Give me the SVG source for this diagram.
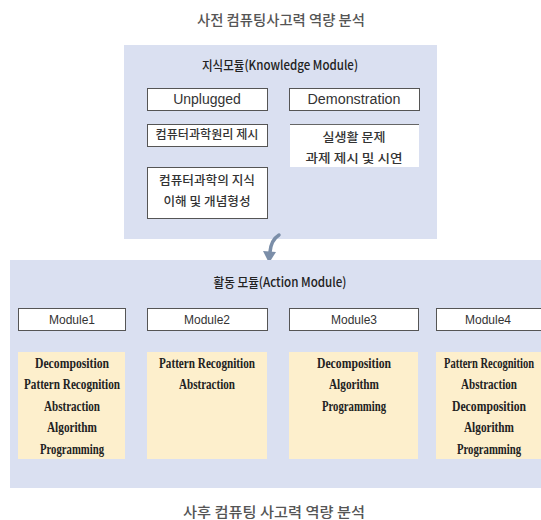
<svg xmlns="http://www.w3.org/2000/svg" width="541" height="520" viewBox="0 0 541 520">
<style>
.panel{fill:#dae0f1;}
.box{fill:#ffffff;stroke:#555;stroke-width:1;}
.ybox{fill:#fdefcc;}
.ttl{font-family:"Noto Sans CJK KR","Liberation Sans",sans-serif;font-size:14px;font-weight:500;fill:#555;text-anchor:middle;}
.hdr{font-family:"Noto Sans CJK KR","Liberation Sans",sans-serif;font-size:13px;font-weight:500;fill:#222;text-anchor:middle;}
.lbl{font-family:"Liberation Sans","Noto Sans CJK KR",sans-serif;font-size:14px;fill:#333;text-anchor:middle;}
.kr{font-family:"Noto Sans CJK KR","Liberation Sans",sans-serif;font-size:12px;font-weight:500;fill:#333;text-anchor:middle;}
.mod{font-family:"Liberation Sans",sans-serif;font-size:12px;fill:#333;text-anchor:middle;}
.sk{font-family:"Liberation Serif",serif;font-size:14px;font-weight:bold;fill:#222;text-anchor:middle;}
</style>
<text class="ttl" x="281" y="25" textLength="168" lengthAdjust="spacingAndGlyphs">사전 컴퓨팅사고력 역량 분석</text>
<g id="knowledge-module">
<rect class="panel" x="124" y="45" width="313" height="194"/>
<text class="hdr" x="280" y="70" textLength="156" lengthAdjust="spacingAndGlyphs">지식모듈(Knowledge Module)</text>
</g>
<g id="unplugged"><rect class="box" x="147.5" y="88.5" width="120" height="22"/><text class="lbl" x="207" y="104">Unplugged</text></g>
<g id="demonstration"><rect class="box" x="289.5" y="88.5" width="130" height="22"/><text class="lbl" x="354" y="104" textLength="93" lengthAdjust="spacingAndGlyphs">Demonstration</text></g>
<g id="cs-principle"><rect class="box" x="147.5" y="124.5" width="120" height="22"/><text class="kr" x="207" y="139" textLength="103" lengthAdjust="spacingAndGlyphs">컴퓨터과학원리 제시</text></g>
<g id="real-life"><rect x="290" y="124" width="129" height="43" fill="#fff"/><line x1="290" y1="124.5" x2="419" y2="124.5" stroke="#666" stroke-width="1"/><text class="kr" x="354" y="142" textLength="63" lengthAdjust="spacingAndGlyphs">실생활 문제</text><text class="kr" x="354" y="163" textLength="97" lengthAdjust="spacingAndGlyphs">과제 제시 및 시연</text></g>
<g id="cs-knowledge"><rect class="box" x="147.5" y="167.5" width="120" height="51"/><text class="kr" x="207" y="185" textLength="96" lengthAdjust="spacingAndGlyphs">컴퓨터과학의 지식</text><text class="kr" x="207" y="206" textLength="87" lengthAdjust="spacingAndGlyphs">이해 및 개념형성</text></g>
<g id="connectors">
<path d="M279,235 Q271,240 270,252" fill="none" stroke="#7b8ea8" stroke-width="3.5" stroke-linecap="round"/>
<path d="M263,251 L276,252 L269,263 Z" fill="#7b8ea8"/>
</g>
<g id="action-module">
<rect class="panel" x="10" y="260" width="531" height="228"/>
<text class="hdr" x="280" y="287" textLength="133" lengthAdjust="spacingAndGlyphs">활동 모듈(Action Module)</text>
</g>
<g id="module1"><rect class="box" x="18.5" y="308.5" width="107" height="22"/><text class="mod" x="72" y="324">Module1</text>
<rect class="ybox" x="18" y="352" width="107" height="107"/>
<text class="sk" x="72" y="368" textLength="74" lengthAdjust="spacingAndGlyphs">Decomposition</text>
<text class="sk" x="72" y="389" textLength="96" lengthAdjust="spacingAndGlyphs">Pattern Recognition</text>
<text class="sk" x="72" y="411" textLength="56" lengthAdjust="spacingAndGlyphs">Abstraction</text>
<text class="sk" x="72" y="432" textLength="50" lengthAdjust="spacingAndGlyphs">Algorithm</text>
<text class="sk" x="72" y="454" textLength="64" lengthAdjust="spacingAndGlyphs">Programming</text></g>
<g id="module2"><rect class="box" x="147.5" y="308.5" width="120" height="22"/><text class="mod" x="207" y="324">Module2</text>
<rect class="ybox" x="147" y="352" width="120" height="107"/>
<text class="sk" x="207" y="368" textLength="96" lengthAdjust="spacingAndGlyphs">Pattern Recognition</text>
<text class="sk" x="207" y="389" textLength="56" lengthAdjust="spacingAndGlyphs">Abstraction</text></g>
<g id="module3"><rect class="box" x="289.5" y="308.5" width="129" height="22"/><text class="mod" x="354" y="324">Module3</text>
<rect class="ybox" x="289" y="352" width="129" height="107"/>
<text class="sk" x="354" y="368" textLength="74" lengthAdjust="spacingAndGlyphs">Decomposition</text>
<text class="sk" x="354" y="389" textLength="50" lengthAdjust="spacingAndGlyphs">Algorithm</text>
<text class="sk" x="354" y="411" textLength="64" lengthAdjust="spacingAndGlyphs">Programming</text></g>
<g id="module4"><rect class="box" x="436.5" y="308.5" width="106" height="22"/><text class="mod" x="488" y="324">Module4</text>
<rect class="ybox" x="436" y="352" width="105" height="107"/>
<text class="sk" transform="translate(489,368) scale(0.75,1)" x="0" y="0">Pattern Recognition</text>
<text class="sk" x="489" y="389" textLength="56" lengthAdjust="spacingAndGlyphs">Abstraction</text>
<text class="sk" x="489" y="411" textLength="74" lengthAdjust="spacingAndGlyphs">Decomposition</text>
<text class="sk" x="489" y="432" textLength="50" lengthAdjust="spacingAndGlyphs">Algorithm</text>
<text class="sk" x="489" y="454" textLength="64" lengthAdjust="spacingAndGlyphs">Programming</text></g>
<text class="ttl" x="274" y="517" textLength="182" lengthAdjust="spacingAndGlyphs">사후 컴퓨팅 사고력 역량 분석</text>
</svg>
